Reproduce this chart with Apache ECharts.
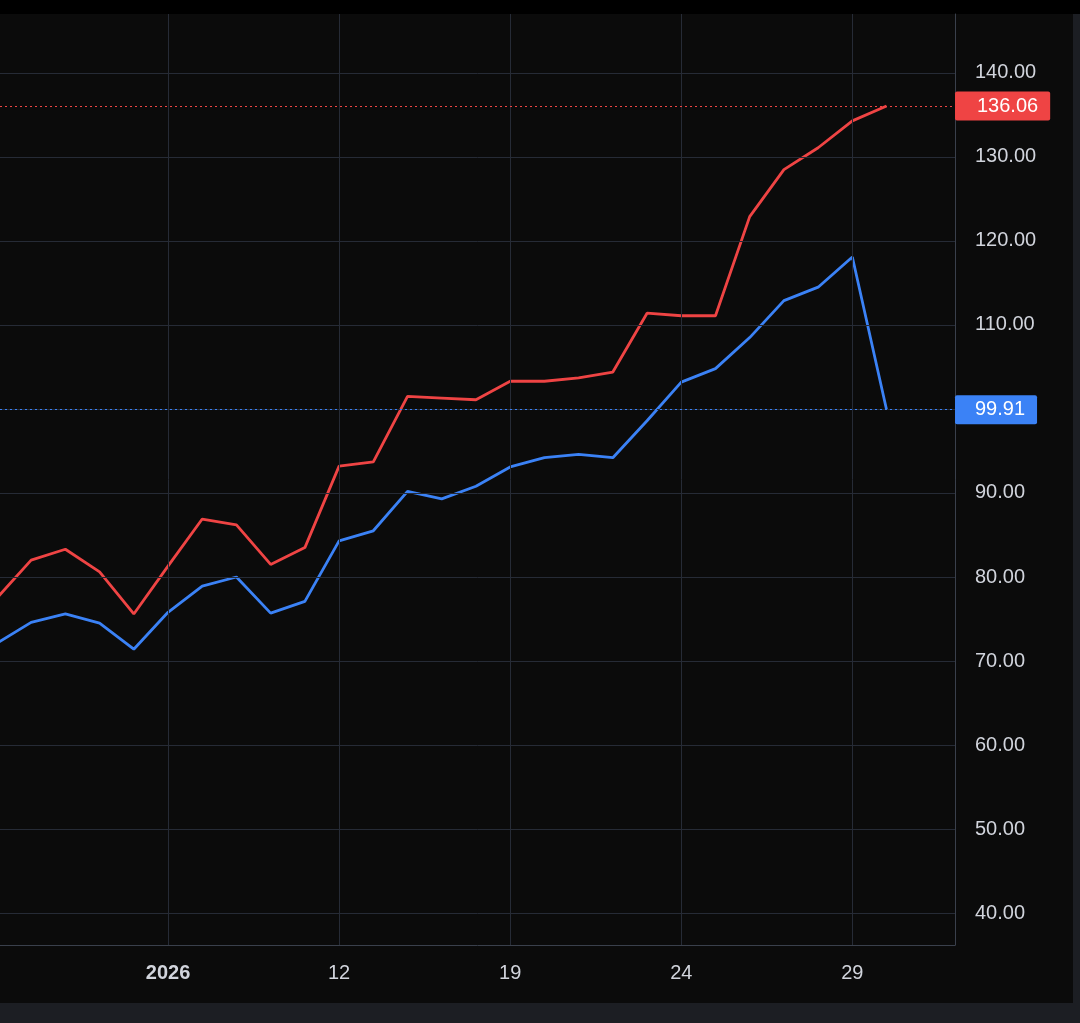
<!DOCTYPE html>
<html><head><meta charset="utf-8">
<script src="https://cdn.jsdelivr.net/npm/echarts@6/dist/echarts.min.js"></script>
<style>html,body{margin:0;padding:0;background:#000}#c{width:1080px;height:1023px}</style>
</head><body><div id="c"></div>
<script>
const xIdx = [-5,-4,-3,-2,-1,0,1,2,3,4,5,6,7,8,9,10,11,12,13,14,15,16,17,18,19,20,21];
const redVals = [77.5,82.0,83.3,80.6,75.6,81.3,86.9,86.2,81.5,83.5,93.2,93.7,101.5,101.3,101.1,103.3,103.3,103.7,104.4,111.4,111.1,111.1,122.9,128.5,131.1,134.3,136.06];
const blueVals = [72.1,74.6,75.6,74.5,71.4,75.8,78.9,80.0,75.7,77.1,84.3,85.5,90.2,89.3,90.8,93.1,94.2,94.6,94.2,98.6,103.2,104.8,108.5,112.9,114.5,118.1,99.91];
const xTickPos = [0,5,10,15,20];
const xTickLabels = ['2026','12','19','24','29'];
const yTicks = [40,50,60,70,80,90,100,110,120,130,140];
const yTickLabels = yTicks.filter(v=>v!==100);

const gridColor = '#262b36';
const chart = echarts.init(document.getElementById('c'));
const vLines = xTickPos.map(v=>({xAxis:v}));
const hLines = yTicks.map(v=>({yAxis:v}));
const font = 'Arial, Liberation Sans';
chart.setOption({
  backgroundColor:'#0b0b0b',
  animation:false,
  graphic:[
    {type:'rect',shape:{x:0,y:0,width:1080,height:14},style:{fill:'#000'},silent:true},
    {type:'rect',shape:{x:0,y:1003,width:1080,height:20},style:{fill:'#1c1e23'},silent:true},
    {type:'rect',shape:{x:1073,y:14,width:7,height:989},style:{fill:'#1c1e23'},silent:true}
  ],
  grid:{left:0,right:125,top:14,bottom:78},
  xAxis:{type:'value',min:-4.91,max:23.0,
    axisLine:{show:true,lineStyle:{color:'#3a404c'}},axisTick:{show:false},splitLine:{show:false},
    axisLabel:{customValues:xTickPos,color:'#d1d4dc',fontSize:20,fontFamily:font,margin:18,
      formatter:v=>{const i=xTickPos.indexOf(Math.round(v));return i===0?'{b|2026}':(i>=0?xTickLabels[i]:'');},
      rich:{b:{fontWeight:'bold',fontSize:20,color:'#d1d4dc',fontFamily:font}}}},
  yAxis:{type:'value',position:'right',min:36.19,max:147.02,
    axisLine:{show:true,onZero:false,lineStyle:{color:'#3a404c'}},axisTick:{show:false},splitLine:{show:false},
    axisLabel:{customValues:yTickLabels,color:'#d1d4dc',fontSize:20,fontFamily:font,margin:20,
      formatter:v=>v.toFixed(2)}},
  series:[
    {type:'line',data:[],silent:true,
      markLine:{silent:true,symbol:'none',label:{show:false},lineStyle:{color:gridColor,type:'solid',width:1},
        data:vLines.concat(hLines).concat([{xAxis:23.0,lineStyle:{color:'#3a404c'}}])}},
    {type:'line',data:xIdx.map((x,i)=>[x,redVals[i]]),showSymbol:false,lineStyle:{color:'#ef4444',width:2.8},z:3,
      markLine:{silent:true,symbol:'none',lineStyle:{color:'#ef4444',type:[2,3],width:1},
        label:{position:'end',distance:0,formatter:'136.06',color:'#fff',backgroundColor:'#ef4444',padding:[5,12,4,22],fontSize:20,fontFamily:font,borderRadius:2},
        data:[{yAxis:redVals[redVals.length-1]}]}},
    {type:'line',data:xIdx.map((x,i)=>[x,blueVals[i]]),showSymbol:false,lineStyle:{color:'#3b82f6',width:2.8},z:3,
      markLine:{silent:true,symbol:'none',lineStyle:{color:'#3b82f6',type:[2,3],width:1},
        label:{position:'end',distance:0,formatter:'99.91',color:'#fff',backgroundColor:'#3b82f6',padding:[5,12,4,20],fontSize:20,fontFamily:font,borderRadius:2},
        data:[{yAxis:blueVals[blueVals.length-1]}]}}
  ]
});
</script></body></html>
